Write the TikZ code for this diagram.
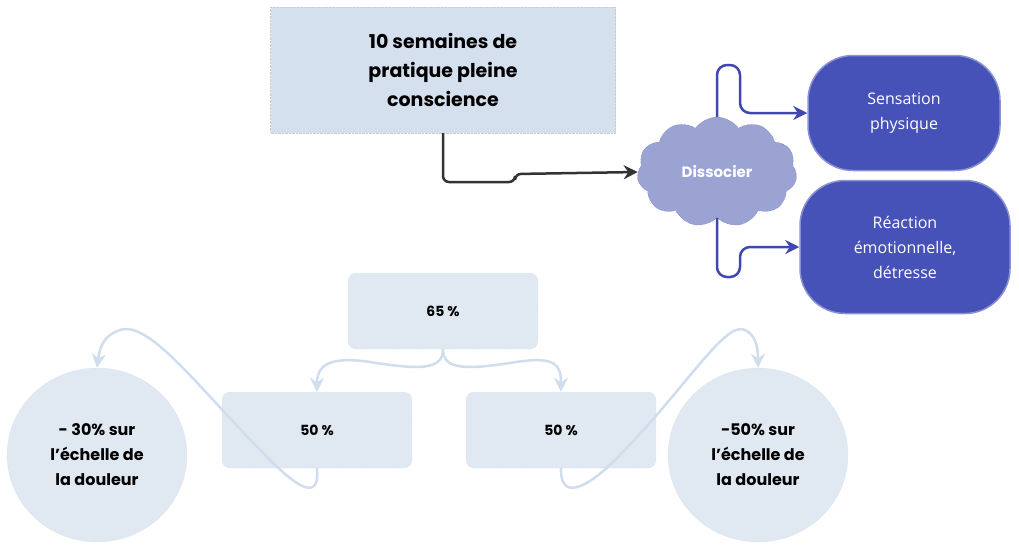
\documentclass[tikz,border=0pt]{standalone}
\usepackage{fontspec}
\setmainfont{Poppins}
\newfontfamily\opensans{Open Sans}
\usetikzlibrary{positioning, shapes.symbols, shapes.geometric, arrows.meta}
\definecolor{titelblau}{HTML}{D5E0EE}
\definecolor{hellblau}{HTML}{E0E8F2}
\definecolor{wolke}{HTML}{9AA3D2}
\definecolor{wolkenrand}{HTML}{5A64C0}
\definecolor{dunkelblau}{HTML}{4752B8}
\definecolor{linie}{HTML}{4048B0}
\definecolor{pfeilhell}{HTML}{D0DDEC}
\tikzset{titel/.style={rectangle,fill=titelblau,draw=white!80!black,densely dotted,minimum width=345pt,minimum height=126pt,align=center,font=\bfseries\fontsize{19pt}{29pt}\selectfont},
	prozent/.style={rectangle,rounded corners=8pt,fill=hellblau,draw=white!85!black,densely dotted,minimum width=190pt,minimum height=76pt,font=\bfseries\fontsize{14pt}{18pt}\selectfont},
	skala/.style={ellipse,fill=hellblau,draw=white!85!black,densely dotted,minimum width=180pt,minimum height=174pt,align=center,font=\bfseries\fontsize{16pt}{25pt}\selectfont},
	wahrnehmung/.style={rectangle,rounded corners=45pt,fill=dunkelblau,draw=wolkenrand!70!white,line width=1.5pt,text=white,align=center,font=\opensans\fontsize{16pt}{25pt}\selectfont},
	dunkel/.style={draw=black!80,line width=2.5pt,rounded corners=6pt,-{Stealth[length=14pt,width=14pt]}},
	blau/.style={draw=linie,line width=2.5pt,rounded corners=10pt,-{Stealth[length=14pt,width=14pt]}},
	hell/.style={draw=pfeilhell,line width=2.5pt,-{Stealth[length=14pt,width=14pt]}} }
\begin{document}
\begin{tikzpicture}[x=1pt,y=-1pt]
	\useasboundingbox (0,0) rectangle (1019,547);
	
	\node (titel) [titel] at (443,70) {10 semaines de\\pratique pleine\\conscience};
	\node (dissocier) [cloud, cloud puffs=11, cloud puff arc=110, aspect=1.6, fill=wolke, draw=wolkenrand, densely dotted, minimum width=160pt, minimum height=110pt, text=white, font=\bfseries\fontsize{15pt}{18pt}\selectfont] at (717,172) {Dissocier};
	\node (sensation) [wahrnehmung, minimum width=192pt, minimum height=115pt] at (904,113) {Sensation\\physique};
	\node (reaktion) [wahrnehmung, minimum width=210pt, minimum height=133pt] at (905,247) {Réaction\\émotionnelle,\\détresse};
	
	\node (p65) [prozent] at (443,311) {65 \%};
	\node (p50a) [prozent] at (317,430) {50 \%};
	\node (p50b) [prozent] at (561,430) {50 \%};
	\node (skalaa) [skala] at (97,455) {- 30\% sur\\l'échelle de\\la douleur};
	\node (skalab) [skala] at (758,455) {-50\% sur\\l'échelle de\\la douleur};
	
	\draw [dunkel] (titel.south) |- (515,182) -- (515,174) -- (dissocier.west);
	\draw [blau] (dissocier.north) |- (740,65) |- (sensation.west);
	\draw [blau] (dissocier.south) |- (740,277) |- (reaktion.west);
	
	\draw [hell] (p65.south) .. controls (443,370) and (420,370) .. (370,362) .. controls (330,356) and (317,365) .. (p50a.north);
	\draw [hell] (p65.south) .. controls (443,370) and (466,370) .. (516,362) .. controls (556,356) and (561,365) .. (p50b.north);
	\draw [hell] (p50a.south) .. controls (320,500) and (300,490) .. (270,460) .. controls (200,390) and (150,320) .. (120,330) .. controls (105,335) and (100,345) .. (skalaa.north);
	\draw [hell] (p50b.south) .. controls (560,500) and (585,490) .. (615,460) .. controls (685,390) and (725,320) .. (745,330) .. controls (755,335) and (758,345) .. (skalab.north);
\end{tikzpicture}
\end{document}
